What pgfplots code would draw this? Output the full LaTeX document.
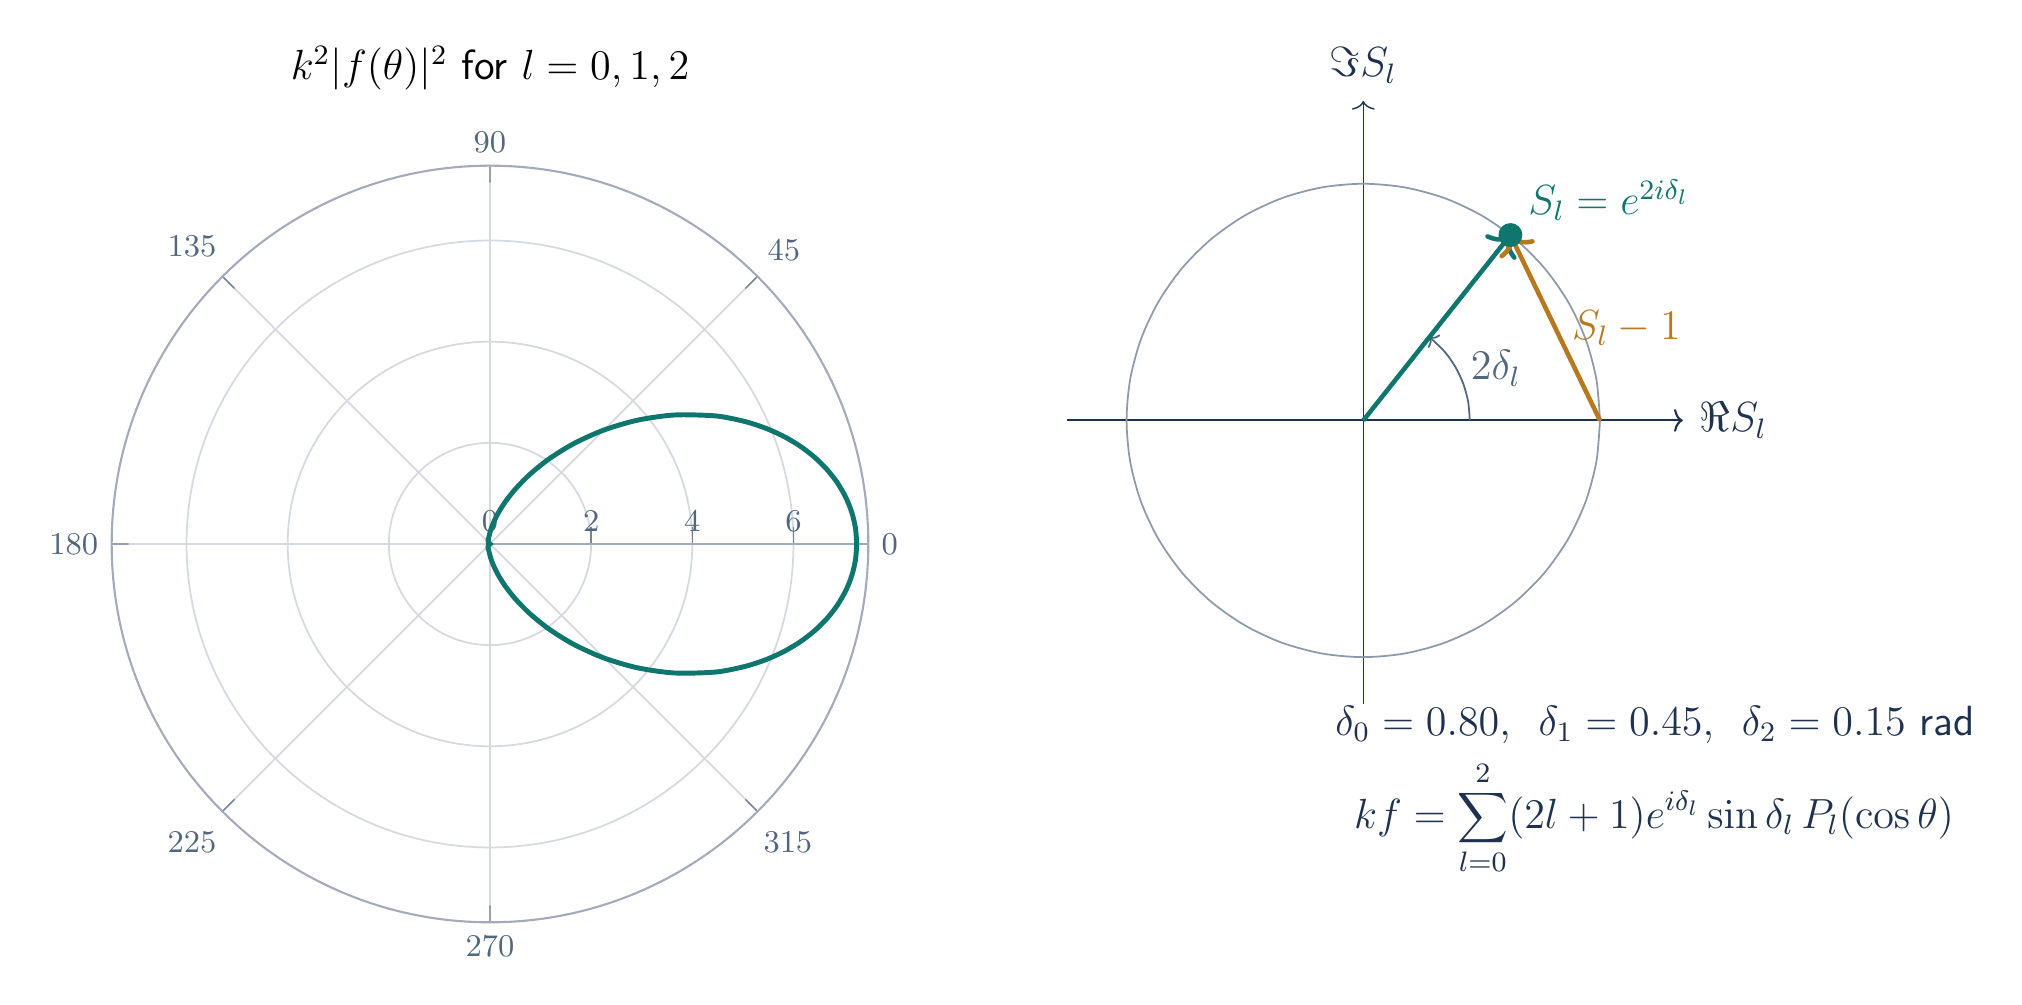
\documentclass[border=0pt]{standalone}
\usepackage{pgfplots}
\pgfplotsset{compat=1.18}
\usepgfplotslibrary{polar}
\usetikzlibrary{arrows.meta}

\definecolor{curveteal}{HTML}{0F766E}
\definecolor{amber}{HTML}{B7791F}
\definecolor{navy}{HTML}{1E3250}
\definecolor{slate}{HTML}{51667F}
\definecolor{gridc}{HTML}{D5D9E0}
\definecolor{rimc}{HTML}{A3ABBB}
\definecolor{circc}{HTML}{8D9AAB}

\begin{document}
\begin{tikzpicture}
\path[use as bounding box] (0,0) rectangle (20.22,10.05);

% left: k^2 |f(theta)|^2 for delta_0=0.80, delta_1=0.45, delta_2=0.15
\begin{polaraxis}[
    at={(4.90cm,4.61cm)}, anchor=center,
    width=7.566cm, height=7.566cm, scale only axis,
    ymin=0, ymax=7.48,
    xtick={0,45,...,315},
    xticklabel={$\pgfmathprintnumber{\tick}$},
    ytick={0,2,4,6},
    grid=major,
    major grid style={color=gridc, line width=0.5pt},
    axis line style={color=rimc, line width=0.6pt},
    tick label style={font=\small, color=slate},
    xticklabel shift=0.18cm,
    xtick align=outside,
    major tick length=0.17cm,
    tick style={color=slate!80, line width=0.4pt},
]
\addplot[curveteal, line width=1.4pt, smooth] coordinates {
    (0,7.2506) (2.5,7.2330) (5,7.1804) (7.5,7.0935) (10,6.9733) (12.5,6.8215)
    (15,6.6400) (17.5,6.4311) (20,6.1974) (22.5,5.9417) (25,5.6672) (27.5,5.3770)
    (30,5.0745) (35,4.4462) (40,3.8089) (45,3.1871) (50,2.6022) (55,2.0710)
    (60,1.6052) (65,1.2112) (70,0.8903) (75,0.6394) (80,0.4516) (85,0.3178)
    (90,0.2275) (95,0.1699) (100,0.1350) (105,0.1143) (110,0.1009) (115,0.0902)
    (120,0.0794) (130,0.0545) (140,0.0292) (150,0.0118) (160,0.0054) (170,0.0062)
    (180,0.0075) (190,0.0062) (200,0.0054) (210,0.0118) (220,0.0292) (230,0.0545)
    (240,0.0794) (245,0.0902) (250,0.1009) (255,0.1143) (260,0.1350) (265,0.1699)
    (270,0.2275) (275,0.3178) (280,0.4516) (285,0.6394) (290,0.8903) (295,1.2112)
    (300,1.6052) (305,2.0710) (310,2.6022) (315,3.1871) (320,3.8089) (325,4.4462)
    (330,5.0745) (332.5,5.3770) (335,5.6672) (337.5,5.9417) (340,6.1974) (342.5,6.4311)
    (345,6.6400) (347.5,6.8215) (350,6.9733) (352.5,7.0935) (355,7.1804) (357.5,7.2330)
    (360,7.2506)
};
\end{polaraxis}
\node[font=\large] at (4.90,9.37) {$k^2|f(\theta)|^2$ \textsf{for} $l=0,1,2$};

% right: S_l = exp(2i delta_l) on the unit circle, l = 1
\begin{axis}[
    at={(10.674cm,3.005cm)}, anchor=south west,
    x=2.367cm, y=2.367cm,
    xmin=-1.25, xmax=1.35, ymin=-1.2, ymax=1.35,
    axis lines=middle, ticks=none, clip=false,
    x axis line style={navy, line width=0.6pt, -{To[length=2.5pt,width=6.5pt]}},
    y axis line style={navy, line width=0.4pt, -{To[length=2.5pt,width=6.5pt]}},
]
\addplot[circc, line width=0.5pt, smooth] coordinates {
    (1,0) (0.9848,0.1736) (0.9397,0.3420) (0.8660,0.5) (0.7660,0.6428) (0.6428,0.7660)
    (0.5,0.8660) (0.3420,0.9397) (0.1736,0.9848) (0,1) (-0.1736,0.9848) (-0.3420,0.9397)
    (-0.5,0.8660) (-0.6428,0.7660) (-0.7660,0.6428) (-0.8660,0.5) (-0.9397,0.3420) (-0.9848,0.1736)
    (-1,0) (-0.9848,-0.1736) (-0.9397,-0.3420) (-0.8660,-0.5) (-0.7660,-0.6428) (-0.6428,-0.7660)
    (-0.5,-0.8660) (-0.3420,-0.9397) (-0.1736,-0.9848) (0,-1) (0.1736,-0.9848) (0.3420,-0.9397)
    (0.5,-0.8660) (0.6428,-0.7660) (0.7660,-0.6428) (0.8660,-0.5) (0.9397,-0.3420) (0.9848,-0.1736)
    (1,0)
};
\addplot[slate, line width=0.5pt, smooth, -{To[length=2pt,width=5pt]}] coordinates {
    (0.4500,0) (0.4432,0.0781) (0.4229,0.1539) (0.3897,0.2250) (0.3447,0.2893) (0.2797,0.3525)
};
\addplot[curveteal, line width=1.3pt, -{To[length=5pt,width=11pt]}] coordinates {(0,0) (0.6216,0.7833)};
\addplot[amber, line width=1.3pt, -{To[length=5pt,width=11pt]}] coordinates {(1,0) (0.6216,0.7833)};
\addplot[only marks, mark=*, mark size=3.2pt, curveteal] coordinates {(0.6216,0.7833)};
\node[font=\large, text=navy, anchor=west] at (axis cs:1.37,0) {$\Re S_l$};
\node[font=\large, text=navy] at (axis cs:0,1.50) {$\Im S_l$};
\node[font=\large, text=curveteal, anchor=west] at (axis cs:0.645,0.93) {$S_l = e^{2i\delta_l}$};
\node[font=\large, text=amber, anchor=west] at (axis cs:0.83,0.39) {$S_l - 1$};
\node[font=\large, text=slate] at (axis cs:0.56,0.22) {$2\delta_l$};
\end{axis}

\node[font=\large, text=navy] at (16.55,2.80) {$\delta_0=0.80,\ \,\delta_1=0.45,\ \,\delta_2=0.15$ \textsf{rad}};
\node[font=\large, text=navy] at (16.54,1.87) {$\displaystyle kf=\sum_{l=0}^{2}(2l+1)e^{i\delta_l}\sin\delta_l\,P_l(\cos\theta)$};
\end{tikzpicture}
\end{document}
